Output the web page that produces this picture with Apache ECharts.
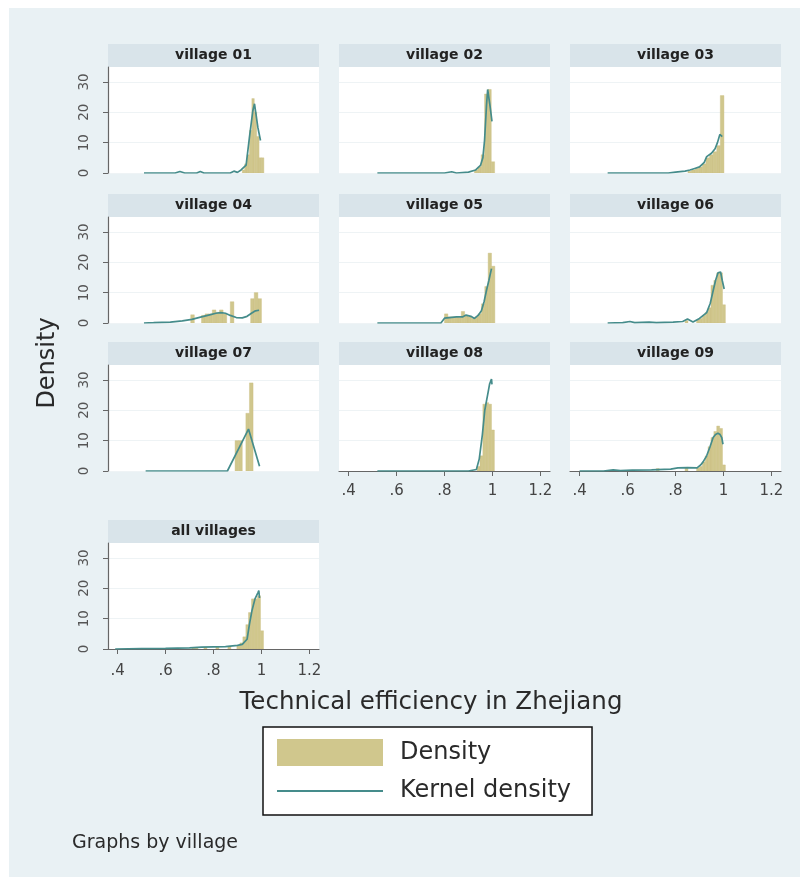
<!DOCTYPE html>
<html><head><meta charset="utf-8">
<script src="https://cdn.jsdelivr.net/npm/echarts@6/dist/echarts.min.js"></script>
<style>html,body{margin:0;padding:0;background:#fff}#c{width:809px;height:884px}</style>
</head><body><div id="c"></div>
<script>
// ---------- data ----------
const panelTitles = ['village 01','village 02','village 03','village 04','village 05','village 06','village 07','village 08','village 09','all villages'];
const xTickValues = [0.4, 0.6, 0.8, 1, 1.2];
const xTickLabels = ['.4', '.6', '.8', '1', '1.2'];
const yTickValues = [0, 10, 20, 30];
const xRange = [0.36, 1.24];
const yRange = [0, 34.9];

// histogram bin widths per panel
const binWidths = [0.01, 0.014, 0.015, 0.015, 0.014, 0.012, 0.015, 0.012, 0.012, 0.0125];

// histogram bins: [bin start, density]
const hist01 = [[0.92,1],[0.93,3],[0.94,6],[0.95,14],[0.96,24.5],[0.97,20],[0.98,12],[0.99,5],[1.0,5]];
const hist02 = [[0.925,1],[0.939,2],[0.953,6],[0.967,26],[0.981,27.5],[0.995,3.7]];
const hist03 = [[0.852,0.6],[0.867,1],[0.882,1.5],[0.897,2],[0.912,3],[0.927,5],[0.942,6],[0.957,7],[0.972,9],[0.987,25.5]];
const hist04 = [[0.705,2.7],[0.75,2.5],[0.765,3],[0.78,3],[0.795,4.3],[0.81,3.5],[0.825,4.3],[0.84,3],[0.87,7],[0.955,8],[0.97,10],[0.985,8]];
const hist05 = [[0.80,3],[0.814,2],[0.828,2],[0.842,2],[0.856,1.8],[0.870,3.8],[0.884,2.5],[0.898,2],[0.912,1.5],[0.926,2],[0.940,3],[0.954,6.3],[0.968,12],[0.982,23],[0.996,18.7]];
const hist06 = [[0.84,0.8],[0.888,1],[0.90,1.5],[0.912,2.5],[0.924,3.5],[0.936,5],[0.948,12.4],[0.96,14],[0.972,16.5],[0.984,16.5],[0.996,6]];
const hist07 = [[0.89,10],[0.905,10],[0.935,19],[0.95,29]];
const hist08 = [[0.936,1.5],[0.948,5],[0.96,22],[0.972,22.5],[0.984,22],[0.996,13.5]];
const hist09 = [[0.72,0.8],[0.84,1],[0.888,1],[0.90,1.5],[0.912,3],[0.924,5],[0.936,8],[0.948,11],[0.96,13],[0.972,14.8],[0.984,14],[0.996,2]];
const histAll = [[0.71,0.4],[0.7225,0.5],[0.76,0.5],[0.81,0.7],[0.86,0.8],[0.8975,1],[0.91,2],[0.9225,4],[0.935,8],[0.946,12],[0.9585,16.5],[0.971,16.5],[0.9835,17.5],[0.996,6]];

// kernel density curves: [efficiency, density]
const kde01 = [[0.51,0],[0.64,0],[0.66,0.5],[0.68,0],[0.73,0],[0.745,0.5],[0.76,0],[0.87,0],[0.885,0.6],[0.90,0.2],[0.915,1],[0.936,2.6],[0.95,11.8],[0.964,20.5],[0.971,22.8],[0.985,15],[0.996,10.7]];
const kde02 = [[0.52,0],[0.80,0],[0.83,0.4],[0.85,0],[0.90,0.3],[0.93,1],[0.95,2.5],[0.96,5],[0.967,10.7],[0.975,22],[0.98,27.5],[0.985,27],[0.99,22],[0.998,17]];
const kde03 = [[0.517,0],[0.77,0],[0.80,0.3],[0.84,0.6],[0.86,1],[0.88,1.5],[0.90,2],[0.92,3.5],[0.93,5.4],[0.95,6.5],[0.965,8],[0.975,10],[0.985,12.7],[0.995,12]];
const kde04 = [[0.51,0],[0.55,0.1],[0.62,0.3],[0.67,0.7],[0.71,1.2],[0.75,2],[0.78,2.6],[0.81,3.2],[0.83,3.4],[0.85,3.2],[0.87,2.5],[0.895,1.8],[0.92,1.7],[0.94,2.2],[0.96,3.3],[0.975,4],[0.99,4.2]];
const kde05 = [[0.52,0],[0.785,0],[0.80,1.6],[0.82,1.8],[0.85,2],[0.875,2],[0.89,2.6],[0.91,2.2],[0.925,1.5],[0.94,2.5],[0.954,4],[0.965,7],[0.975,10.7],[0.985,14],[0.996,17.9]];
const kde06 = [[0.517,0],[0.58,0.1],[0.61,0.5],[0.63,0.1],[0.69,0.3],[0.72,0.1],[0.79,0.3],[0.83,0.5],[0.85,1.3],[0.873,0.3],[0.90,1.5],[0.93,3.4],[0.945,6.5],[0.957,10.6],[0.967,14],[0.977,16.5],[0.988,16.8],[0.995,14],[1.003,11.2]];
const kde07 = [[0.517,0],[0.858,0],[0.946,13.8],[0.992,1.6]];
const kde08 = [[0.52,0],[0.90,0],[0.933,0.5],[0.945,4],[0.958,12],[0.968,20],[0.975,23],[0.982,26],[0.988,28.6],[0.996,30.3],[0.998,28.5]];
const kde09 = [[0.40,0],[0.50,0],[0.54,0.4],[0.57,0.1],[0.62,0.3],[0.70,0.4],[0.78,0.6],[0.81,1],[0.85,1.1],[0.89,1],[0.905,2],[0.915,3],[0.93,5],[0.944,8],[0.957,11],[0.967,12],[0.977,12.4],[0.986,12],[0.993,11],[0.998,8.8]];
const kdeAll = [[0.39,0],[0.5,0.1],[0.6,0.2],[0.7,0.4],[0.75,0.6],[0.8,0.7],[0.85,0.8],[0.9,1.2],[0.92,1.5],[0.94,3.2],[0.95,8.2],[0.96,12.5],[0.973,16.5],[0.985,18.5],[0.989,19.2],[0.992,16.8]];

const hists = [hist01,hist02,hist03,hist04,hist05,hist06,hist07,hist08,hist09,histAll];
const kdes = [kde01,kde02,kde03,kde04,kde05,kde06,kde07,kde08,kde09,kdeAll];

// ---------- layout & style ----------
const FONT = 'DejaVu Sans';
const BAR_COLOR = '#d0c78d';
const LINE_COLOR = '#458c8b';
const BG = '#e9f1f4';
const STRIP = '#d9e4ea';
const colLeft = [108, 339, 570];
const colWidth = 211;
const rowTop = [67, 217, 365, 543];
const plotH = 106;
const stripH = 23;

const grids = [], xAxes = [], yAxes = [], series = [], graphics = [];
graphics.push({type:'rect', z:-10, shape:{x:9, y:8, width:791, height:869}, style:{fill:BG}});

for (let i = 0; i < 10; i++) {
  const row = i < 9 ? Math.floor(i / 3) : 3;
  const col = i < 9 ? i % 3 : 0;
  const showX = (i >= 7);
  const showY = (col === 0);
  grids.push({left: colLeft[col], top: rowTop[row], width: colWidth, height: plotH,
    show: true, backgroundColor: '#ffffff', borderWidth: 0, containLabel: false});
  xAxes.push({type:'value', gridIndex:i, min:xRange[0], max:xRange[1],
    axisLine:{show:showX, onZero:false, lineStyle:{color:'#666', width:1.2}},
    axisTick:{show:showX, length:5, customValues:xTickValues, lineStyle:{color:'#666'}},
    axisLabel:{show:showX, customValues:xTickValues, margin:(i === 9 ? 15 : 13),
      formatter: v => xTickLabels[xTickValues.indexOf(+v.toFixed(2))] ?? '',
      fontFamily:FONT, fontSize:15, color:'#444'},
    splitLine:{show:false}});
  yAxes.push({type:'value', gridIndex:i, min:yRange[0], max:yRange[1],
    axisLine:{show:showY, lineStyle:{color:'#666', width:1.2}},
    axisTick:{show:showY, length:5, customValues:yTickValues, lineStyle:{color:'#666'}},
    axisLabel:{show:showY, customValues:yTickValues, rotate:90, align:'center', verticalAlign:'bottom',
      margin:17, fontFamily:FONT, fontSize:13.5, color:'#555'},
    splitLine:{show:true, lineStyle:{color:'#eef3f5', width:1}}});
  const w = binWidths[i];
  series.push({type:'custom', name:'Density', xAxisIndex:i, yAxisIndex:i, clip:true,
    itemStyle:{color:BAR_COLOR},
    data: hists[i].map(b => [b[0], b[0] + w, b[1]]),
    encode:{x:[0,1], y:2},
    renderItem: (params, api) => {
      const p0 = api.coord([api.value(0), 0]);
      const p1 = api.coord([api.value(1), api.value(2)]);
      return {type:'rect', shape:{x:p0[0], y:p1[1], width:p1[0]-p0[0], height:p0[1]-p1[1]},
        style: api.style({fill:BAR_COLOR, stroke:'#c9be80', lineWidth:0.4})};
    }});
  series.push({type:'line', name:'Kernel density', xAxisIndex:i, yAxisIndex:i,
    data: kdes[i], symbol:'none', smooth:false, z:3,
    lineStyle:{color:LINE_COLOR, width:1.7}, itemStyle:{color:LINE_COLOR}});
  // panel header strip
  graphics.push({type:'rect', shape:{x:colLeft[col], y:rowTop[row]-stripH, width:colWidth, height:stripH}, style:{fill:STRIP}});
  graphics.push({type:'text', x:colLeft[col] + colWidth/2, y:rowTop[row]-stripH/2,
    style:{text:panelTitles[i], fill:'#222', font:'bold 14px "DejaVu Sans"', textAlign:'center', textVerticalAlign:'middle'}});
}

graphics.push({type:'text', x:48, y:363, rotation:Math.PI/2,
  style:{text:'Density', fill:'#2a2a2a', font:'24px "DejaVu Sans"', textAlign:'center', textVerticalAlign:'middle'}});
graphics.push({type:'text', x:431, y:703,
  style:{text:'Technical efficiency in Zhejiang', fill:'#2a2a2a', font:'24.5px "DejaVu Sans"', textAlign:'center', textVerticalAlign:'middle'}});
graphics.push({type:'text', x:72, y:843,
  style:{text:'Graphs by village', fill:'#2a2a2a', font:'19px "DejaVu Sans"', textAlign:'left', textVerticalAlign:'middle'}});

const chart = echarts.init(document.getElementById('c'), null, {renderer:'canvas'});
chart.setOption({
  backgroundColor:'#ffffff',
  animation:false,
  grid: grids, xAxis: xAxes, yAxis: yAxes, series: series,
  legend: {left:263, top:727, orient:'vertical', itemWidth:106, itemHeight:27, itemGap:13,
    backgroundColor:'#ffffff', borderColor:'#111', borderWidth:1.5, padding:[12,21,12,13],
    selectedMode:false,
    textStyle:{fontFamily:FONT, fontSize:24, color:'#2a2a2a', padding:[0,0,0,12]},
    data:[{name:'Density', icon:'rect', itemStyle:{color:BAR_COLOR}},
          {name:'Kernel density', itemStyle:{opacity:0}, lineStyle:{color:LINE_COLOR, width:2}}]},
  graphic: graphics
});
</script></body></html>
